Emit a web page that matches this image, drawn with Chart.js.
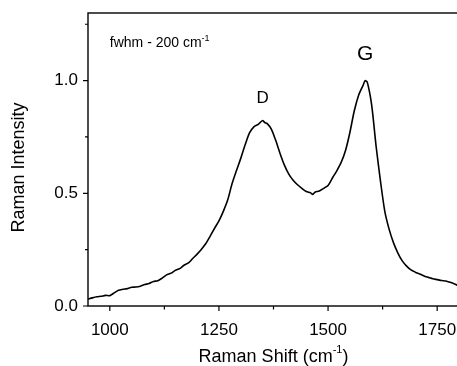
<!DOCTYPE html>
<html>
<head>
<meta charset="utf-8">
<script src="https://cdn.jsdelivr.net/npm/chart.js@4.4.0/dist/chart.umd.min.js"></script>
<style>
html,body{margin:0;padding:0;background:#fff;overflow:hidden;}
#wrap{width:466px;height:366px;position:relative;}
</style>
</head>
<body>
<div id="wrap"><canvas id="c" width="466" height="366"></canvas></div>
<script>
// ---- data ----
const ramanShift = [950,960,970,980,990,1000,1010,1020,1030,1040,1050,1060,1070,1080,1090,1100,1110,1120,1130,1140,1150,1160,1170,1180,1190,1200,1210,1220,1230,1240,1250,1260,1270,1280,1290,1300,1310,1320,1330,1340,1345,1350,1355,1360,1370,1380,1390,1400,1410,1420,1430,1440,1450,1460,1465,1470,1480,1490,1500,1510,1520,1530,1540,1550,1560,1570,1580,1585,1590,1600,1610,1620,1630,1640,1650,1660,1670,1680,1690,1700,1710,1720,1730,1740,1750,1760,1770,1780,1790,1800];
const ramanIntensity = [0.030,0.036,0.041,0.043,0.047,0.046,0.058,0.070,0.074,0.077,0.083,0.084,0.088,0.095,0.100,0.109,0.112,0.124,0.138,0.145,0.158,0.166,0.181,0.191,0.211,0.230,0.252,0.277,0.310,0.345,0.378,0.420,0.470,0.542,0.600,0.655,0.715,0.768,0.795,0.806,0.815,0.823,0.814,0.810,0.785,0.735,0.677,0.625,0.585,0.558,0.538,0.522,0.508,0.502,0.495,0.505,0.510,0.522,0.535,0.568,0.600,0.637,0.690,0.770,0.865,0.935,0.978,1.000,0.992,0.890,0.710,0.555,0.420,0.340,0.280,0.235,0.200,0.177,0.160,0.150,0.142,0.133,0.127,0.121,0.117,0.113,0.111,0.105,0.098,0.088];
const xMajorTicks = [1000,1250,1500,1750];
const xMinorTicks = [1125,1375,1625];
const yMajorTicks = [0.0,0.5,1.0];
const yMinorTicks = [0.25,0.75,1.25];
const xTitle = "Raman Shift (cm";
const xTitleSup = "-1";
const xTitleEnd = ")";
const yTitle = "Raman Intensity";
const peakLabels = [{text:"D", x:1350, y:0.92, size:17},{text:"G", x:1585, y:1.117, size:21}];
const noteText = "fwhm - 200 cm";
const noteSup = "-1";

const FONT = "'Liberation Sans', Arial, sans-serif";

const framePlugin = {
  id:'frame',
  afterDraw(chart){
    const ctx = chart.ctx, a = chart.chartArea;
    const xs = chart.scales.x, ys = chart.scales.y;
    ctx.save();
    ctx.strokeStyle = '#000';
    ctx.lineWidth = 1.4;
    ctx.strokeRect(a.left, a.top, a.right - a.left, a.bottom - a.top);
    ctx.lineWidth = 1.2;
    ctx.beginPath();
    xMajorTicks.forEach(v=>{const p=xs.getPixelForValue(v); ctx.moveTo(p,a.bottom); ctx.lineTo(p,a.bottom+5);});
    xMinorTicks.forEach(v=>{const p=xs.getPixelForValue(v); ctx.moveTo(p,a.bottom); ctx.lineTo(p,a.bottom+3.5);});
    yMajorTicks.forEach(v=>{const p=ys.getPixelForValue(v); ctx.moveTo(a.left,p); ctx.lineTo(a.left-5,p);});
    yMinorTicks.forEach(v=>{const p=ys.getPixelForValue(v); ctx.moveTo(a.left,p); ctx.lineTo(a.left-3,p);});
    ctx.stroke();

    ctx.fillStyle = '#000';
    // peak labels
    ctx.textAlign = 'center'; ctx.textBaseline = 'middle';
    peakLabels.forEach(l=>{
      ctx.font = l.size + 'px ' + FONT;
      ctx.fillText(l.text, xs.getPixelForValue(l.x), ys.getPixelForValue(l.y));
    });
    // note
    ctx.textAlign = 'left'; ctx.textBaseline = 'alphabetic';
    ctx.font = '14px ' + FONT;
    const nx = xs.getPixelForValue(1000), ny = ys.getPixelForValue(1.15);
    ctx.fillText(noteText, nx, ny);
    const nw = ctx.measureText(noteText).width;
    ctx.font = '9px ' + FONT;
    ctx.fillText(noteSup, nx + nw, ny - 6);

    // x title
    ctx.font = '18px ' + FONT;
    const w1 = ctx.measureText(xTitle).width;
    ctx.font = '11px ' + FONT;
    const w2 = ctx.measureText(xTitleSup).width;
    ctx.font = '18px ' + FONT;
    const w3 = ctx.measureText(xTitleEnd).width;
    const tot = w1 + w2 + w3;
    const cx = 273.5, by = 362;
    let sx = cx - tot/2;
    ctx.fillText(xTitle, sx, by);
    ctx.font = '11px ' + FONT;
    ctx.fillText(xTitleSup, sx + w1, by - 9);
    ctx.font = '18px ' + FONT;
    ctx.fillText(xTitleEnd, sx + w1 + w2, by);

    // y title
    ctx.save();
    ctx.translate(19, 167.5);
    ctx.rotate(-Math.PI/2);
    ctx.textAlign = 'center'; ctx.textBaseline = 'middle';
    ctx.font = '18px ' + FONT;
    ctx.fillText(yTitle, 0, 0);
    ctx.restore();
    ctx.restore();
  }
};

new Chart(document.getElementById('c'), {
  type:'line',
  data:{
    datasets:[{
      data: ramanShift.map((x,i)=>({x:x, y:ramanIntensity[i]})),
      borderColor:'#000',
      borderWidth:1.6,
      pointRadius:0,
      tension:0.25,
      fill:false
    }]
  },
  options:{
    responsive:false,
    animation:false,
    events:[],
    layout:{padding:{top:13,right:7,left:0,bottom:0}},
    plugins:{legend:{display:false},tooltip:{enabled:false}},
    scales:{
      x:{
        type:'linear', min:950, max:1800,
        grid:{display:false, drawTicks:false},
        border:{display:false},
        afterBuildTicks(s){ s.ticks = xMajorTicks.map(v=>({value:v})); },
        afterFit(s){ s.height = 60; s.paddingLeft = 0; s.paddingRight = 0; },
        ticks:{padding:14, color:'#000', font:{family:FONT, size:17}, maxRotation:0, callback:v=>String(v)}
      },
      y:{
        type:'linear', min:0, max:1.3,
        grid:{display:false, drawTicks:false},
        border:{display:false},
        afterBuildTicks(s){ s.ticks = yMajorTicks.map(v=>({value:v})); },
        afterFit(s){ s.width = 88; s.paddingTop = 0; s.paddingBottom = 0; },
        ticks:{padding:10, color:'#000', font:{family:FONT, size:17}, callback:v=>Number(v).toFixed(1)}
      }
    }
  },
  plugins:[framePlugin]
});
</script>
</body>
</html>
